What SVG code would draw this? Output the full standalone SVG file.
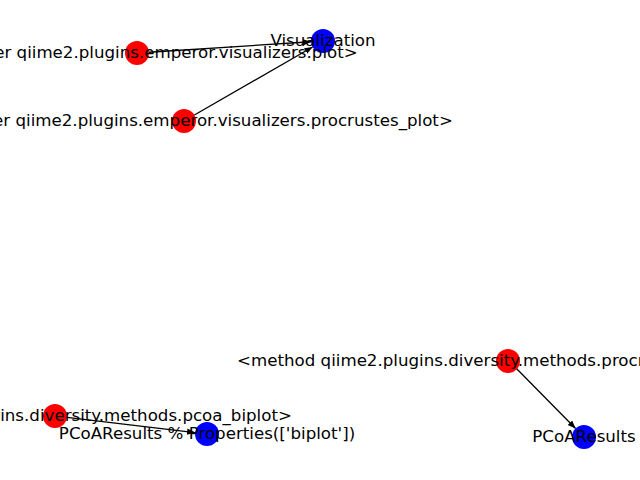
<svg xmlns="http://www.w3.org/2000/svg" width="640" height="480" viewBox="0 0 640 480">
  <style>
    .edge { stroke: #000000; stroke-width: 1.3; fill: none; marker-end: url(#arrow); }
    .red { fill: #ff0000; }
    .blue { fill: #0000ff; }
    .lbl { font-family: "DejaVu Sans", "Liberation Sans", sans-serif; font-size: 16.67px; fill: #000000; text-anchor: middle; dominant-baseline: central; }
  </style>
  <defs>
    <marker id="arrow" markerUnits="userSpaceOnUse" markerWidth="9" markerHeight="7" refX="8" refY="3.2" orient="auto">
      <path d="M0,0 L8,3.2 L0,6.4 z" fill="#000000"/>
    </marker>
  </defs>
  <rect x="0" y="0" width="640" height="480" fill="#ffffff"/>
  <g id="connectors">
    <line class="edge" x1="148.97" y1="52.23" x2="311.03" y2="41.77"/>
    <line class="edge" x1="194.4" y1="115.0" x2="312.6" y2="47.0"/>
    <line class="edge" x1="66.92" y1="417.41" x2="195.08" y2="432.59"/>
    <line class="edge" x1="516.43" y1="368.54" x2="575.57" y2="428.46"/>
  </g>
  <g id="node-visualization">
    <circle class="blue" cx="323" cy="41" r="12"/>
    <text class="lbl" x="323" y="40">Visualization</text>
  </g>
  <g id="node-pcoa-biplot-result">
    <circle class="blue" cx="207" cy="434" r="12"/>
    <text class="lbl" x="207" y="433">PCoAResults % Properties(['biplot'])</text>
  </g>
  <g id="node-pcoa-result">
    <circle class="blue" cx="584" cy="437" r="12"/>
    <text class="lbl" x="584" y="436">PCoAResults</text>
  </g>
  <g id="node-emperor-plot">
    <circle class="red" cx="137" cy="53" r="12"/>
    <text class="lbl" x="138" y="52">&lt;visualizer qiime2.plugins.emperor.visualizers.plot&gt;</text>
  </g>
  <g id="node-emperor-procrustes-plot">
    <circle class="red" cx="184" cy="121" r="12"/>
    <text class="lbl" x="185" y="120">&lt;visualizer qiime2.plugins.emperor.visualizers.procrustes_plot&gt;</text>
  </g>
  <g id="node-pcoa-biplot">
    <circle class="red" cx="55" cy="416" r="12"/>
    <text class="lbl" x="55" y="415">&lt;method qiime2.plugins.diversity.methods.pcoa_biplot&gt;</text>
  </g>
  <g id="node-procrustes-analysis">
    <circle class="red" cx="508" cy="361" r="12"/>
    <text class="lbl" x="508" y="360">&lt;method qiime2.plugins.diversity.methods.procrustes_analysis&gt;</text>
  </g>
</svg>
